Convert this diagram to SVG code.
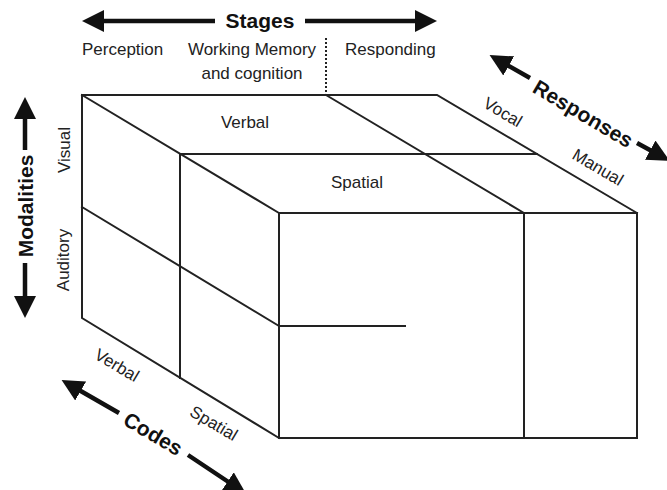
<svg xmlns="http://www.w3.org/2000/svg" width="667" height="490" viewBox="0 0 667 490">
<style>
.edge{stroke:#222;stroke-width:2;fill:none;stroke-linecap:square}
.arrow{stroke:#111;stroke-width:4.5;fill:none;marker-start:url(#head);marker-end:url(#head)}
.lbl{font-family:"Liberation Sans",Arial,sans-serif;font-size:17px;fill:#222}
.ttl{font-family:"Liberation Sans",Arial,sans-serif;font-size:21px;font-weight:bold;fill:#111}
</style>
<defs>
<marker id="head" viewBox="0 0 22 22" refX="10" refY="11" markerWidth="22" markerHeight="22" markerUnits="userSpaceOnUse" orient="auto-start-reverse">
<path d="M0,0 L22,11 L0,22 Z" fill="#111"/>
</marker>
</defs>
<rect width="667" height="490" fill="#fff"/>
<g id="cube">
<path class="edge" d="M82,95 L437,95 L637,213 M82,95 L279,213 M326,95 L524,213 M180,154 L537,154 M82,95 L82,318 L279,438 M180,154 L180,378 M82,207 L279,326"/>
<rect class="edge" x="279" y="213" width="358" height="225"/>
<path class="edge" d="M524,213 L524,438 M279,326 L405,326"/>
<path d="M326,38 L326,95" stroke="#222" stroke-width="2" stroke-dasharray="2,2"/>
</g>
<g id="connectors">
<path class="arrow" d="M94,21 L215,21 M305,21 L425,21"/>
<path class="arrow" d="M25,109 L25,150 M25,263 L25,306"/>
<path class="arrow" d="M500,61 L530,78 M637,143 L659,155"/>
<path class="arrow" d="M72,386 L119,413 M188,455 L236,487"/>
</g>
<g id="stages">
<text class="ttl" x="260" y="28" text-anchor="middle">Stages</text>
<text class="lbl" x="82" y="55">Perception</text>
<text class="lbl" x="252" y="55" text-anchor="middle">Working Memory</text>
<text class="lbl" x="252" y="79" text-anchor="middle">and cognition</text>
<text class="lbl" x="345" y="55">Responding</text>
</g>
<g id="modalities">
<text class="ttl" transform="translate(33,206) rotate(-90)" text-anchor="middle">Modalities</text>
<text class="lbl" transform="translate(70,150) rotate(-90)" text-anchor="middle">Visual</text>
<text class="lbl" transform="translate(69,260) rotate(-90)" text-anchor="middle">Auditory</text>
</g>
<g id="top-codes">
<text class="lbl" x="245" y="128" text-anchor="middle">Verbal</text>
<text class="lbl" x="357" y="188" text-anchor="middle">Spatial</text>
</g>
<g id="responses">
<text class="ttl" transform="translate(583,114) rotate(30.6)" y="7" text-anchor="middle">Responses</text>
<text class="lbl" transform="translate(503,112) rotate(30.6)" y="6" text-anchor="middle">Vocal</text>
<text class="lbl" transform="translate(598,167) rotate(30.6)" y="6" text-anchor="middle">Manual</text>
</g>
<g id="codes">
<text class="ttl" transform="translate(153,434) rotate(30.6)" y="7" text-anchor="middle">Codes</text>
<text class="lbl" transform="translate(117,365) rotate(30.6)" y="6" text-anchor="middle">Verbal</text>
<text class="lbl" transform="translate(214,423) rotate(30.6)" y="6" text-anchor="middle">Spatial</text>
</g>
</svg>
